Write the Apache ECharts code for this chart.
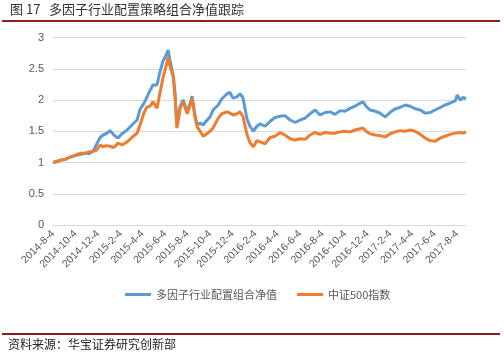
<!DOCTYPE html>
<html>
<head>
<meta charset="utf-8">
<title>多因子行业配置策略组合净值跟踪</title>
<script src="https://cdn.jsdelivr.net/npm/echarts@6/dist/echarts.min.js"></script>
<style>
html,body{margin:0;padding:0;background:#fff;}
#main{width:504px;height:353px;}
</style>
</head>
<body>
<div id="main"></div>
<script>
// 日期
var dates = [
'2014-08-04','2014-08-15','2014-08-26','2014-09-06','2014-09-16','2014-09-27','2014-10-08','2014-10-19','2014-10-30','2014-11-10',
'2014-11-21','2014-12-01','2014-12-10','2014-12-18','2014-12-26','2015-01-06','2015-01-16','2015-01-27','2015-02-07','2015-02-21',
'2015-03-06','2015-03-20','2015-03-28','2015-04-08','2015-04-16','2015-04-24','2015-05-02','2015-05-13','2015-05-21','2015-05-29',
'2015-06-07','2015-06-12','2015-06-17','2015-06-26','2015-07-01','2015-07-06','2015-07-15','2015-07-23','2015-08-03','2015-08-11',
'2015-08-16','2015-08-24','2015-08-30','2015-09-07','2015-09-15','2015-09-23','2015-10-04','2015-10-12','2015-10-26','2015-11-05',
'2015-11-19','2015-11-27','2015-12-05','2015-12-16','2015-12-24','2016-01-01','2016-01-12','2016-01-20','2016-01-29','2016-02-08',
'2016-02-17','2016-03-01','2016-03-15','2016-03-28','2016-04-11','2016-04-24','2016-05-08','2016-05-22','2016-06-04','2016-06-18',
'2016-07-01','2016-07-15','2016-07-28','2016-08-11','2016-08-25','2016-09-07','2016-09-21','2016-10-04','2016-10-18','2016-10-31',
'2016-11-14','2016-11-22','2016-11-30','2016-12-11','2016-12-25','2017-01-07','2017-01-21','2017-02-03','2017-02-17','2017-03-02',
'2017-03-16','2017-03-30','2017-04-12','2017-04-26','2017-05-09','2017-05-23','2017-06-05','2017-06-19','2017-07-02','2017-07-16',
'2017-07-30','2017-08-04','2017-08-12','2017-08-20','2017-08-28'
];

// 多因子行业配置组合净值
var zuhe = [
1.00,1.02,1.04,1.05,1.08,1.10,1.12,1.13,1.15,1.14,
1.18,1.30,1.40,1.44,1.46,1.51,1.44,1.39,1.46,1.52,
1.60,1.68,1.85,1.95,2.05,2.15,2.24,2.24,2.45,2.62,
2.72,2.80,2.64,2.40,2.10,1.60,1.90,2.00,1.82,1.95,
2.06,1.76,1.60,1.63,1.60,1.66,1.73,1.84,1.92,2.02,
2.10,2.12,2.03,2.05,2.10,2.04,1.70,1.58,1.50,1.58,
1.62,1.58,1.66,1.72,1.74,1.75,1.68,1.64,1.68,1.71,
1.78,1.84,1.76,1.80,1.81,1.77,1.83,1.82,1.87,1.90,
1.95,1.97,1.90,1.84,1.82,1.79,1.73,1.80,1.86,1.88,
1.92,1.90,1.86,1.84,1.79,1.80,1.84,1.88,1.92,1.95,
1.99,2.08,2.00,2.04,2.02
];

// 中证500指数
var zz500 = [
1.00,1.01,1.04,1.05,1.08,1.10,1.13,1.15,1.15,1.17,
1.18,1.20,1.28,1.25,1.27,1.26,1.24,1.31,1.28,1.33,
1.40,1.47,1.60,1.80,1.89,1.90,1.97,1.87,2.11,2.35,
2.55,2.69,2.55,2.37,2.05,1.55,1.87,1.97,1.78,1.92,
2.03,1.73,1.57,1.50,1.42,1.45,1.50,1.55,1.71,1.78,
1.81,1.79,1.76,1.78,1.81,1.74,1.45,1.32,1.25,1.35,
1.33,1.30,1.40,1.42,1.48,1.44,1.38,1.36,1.38,1.37,
1.44,1.48,1.45,1.48,1.47,1.47,1.49,1.50,1.49,1.52,
1.54,1.55,1.50,1.46,1.44,1.43,1.41,1.46,1.49,1.51,
1.50,1.52,1.50,1.45,1.39,1.35,1.34,1.39,1.42,1.45,
1.47,1.46,1.48,1.47,1.49
];

// x轴标签
var tickDates = ['2014-8-4','2014-10-4','2014-12-4','2015-2-4','2015-4-4','2015-6-4','2015-8-4','2015-10-4','2015-12-4',
	'2016-2-4','2016-4-4','2016-6-4','2016-8-4','2016-10-4','2016-12-4','2017-2-4','2017-4-4','2017-6-4','2017-8-4'];

var seriesNames = ['多因子行业配置组合净值','中证500指数'];

function toTime(s){//日期字符串转时间戳
	var p = s.split('-');
	return new Date(+p[0], +p[1]-1, +p[2]).getTime();
}

var tickValues = tickDates.map(toTime);

var myChart = echarts.init(document.getElementById('main'));
var option = {
	backgroundColor:'#fff',
	animation:false,
	textStyle:{fontFamily:'"Liberation Sans","Noto Sans CJK SC",sans-serif'},
	grid:{left:53,right:38,top:37.5,bottom:128},
	legend:{
		top:284,
		left:120,
		icon:'rect',
		itemWidth:26,
		itemHeight:3,
		itemGap:20,
		textStyle:{fontSize:11,color:'#595959',fontFamily:'"Noto Sans CJK SC",sans-serif'},
		data:seriesNames
	},
	xAxis:{
		type:'value',//用时间戳做数值轴，标签自定义
		min:toTime('2014-8-4'),
		max:toTime('2017-8-28'),
		axisLine:{show:true,lineStyle:{color:'#D9D9D9'}},
		axisTick:{show:false},
		splitLine:{show:false},
		axisLabel:{
			customValues:tickValues,
			rotate:45,
			margin:7,
			fontSize:10.5,
			color:'#595959',
			formatter:function(v){
				var d = new Date(v);
				return d.getFullYear()+'-'+(d.getMonth()+1)+'-'+d.getDate();
			}
		}
	},
	yAxis:{
		type:'value',
		min:0,
		max:3,
		interval:0.5,
		axisLine:{show:false},
		axisTick:{show:false},
		axisLabel:{fontSize:11,color:'#595959',margin:9},
		splitLine:{lineStyle:{color:'#D9D9D9'}}
	},
	series:[{
		name:seriesNames[0],
		type:'line',
		symbol:'none',
		color:'#5B9BD5',
		lineStyle:{width:3,color:'#5B9BD5'},
		data:dates.map(function(d,i){return [toTime(d),zuhe[i]];})
	},{
		name:seriesNames[1],
		type:'line',
		symbol:'none',
		color:'#ED7D31',
		lineStyle:{width:3,color:'#ED7D31'},
		data:dates.map(function(d,i){return [toTime(d),zz500[i]];})
	}],
	graphic:[
		{type:'text',left:10,top:3,style:{text:'图 17   多因子行业配置策略组合净值跟踪',fontSize:13,fill:'#333',fontFamily:'"Noto Sans CJK SC",sans-serif'}},
		{type:'rect',shape:{x:2,y:20,width:498,height:2},style:{fill:'#8E1F1F'}},
		{type:'rect',shape:{x:2,y:333,width:498,height:2},style:{fill:'#8E1F1F'}},
		{type:'text',left:8,top:338,style:{text:'资料来源：华宝证券研究创新部',fontSize:12,fill:'#222',fontFamily:'"Noto Sans CJK SC",sans-serif'}}
	]
};
myChart.setOption(option);
</script>
</body>
</html>
